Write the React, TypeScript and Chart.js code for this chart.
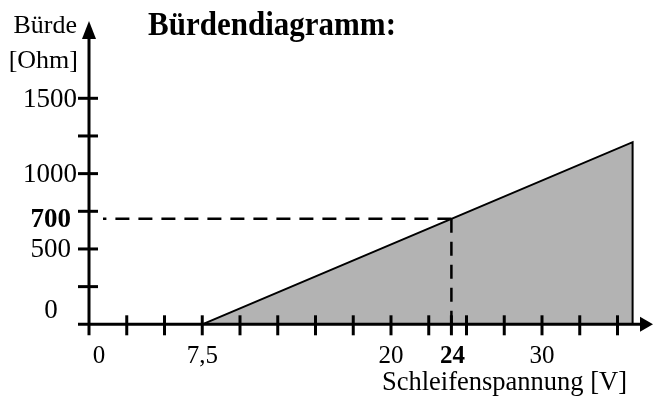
import React, { useEffect, useRef } from "react";
import { Chart, registerables } from "chart.js";

Chart.register(...registerables);

// ---- data ----
const VOLTAGES = [7.5, 24, 36, 36];
const LOADS = [0, 700, 1209, 0];
const OPERATING_VOLTAGE = 24;
const OPERATING_LOAD = 700;

const X_TICK_VALUES = [2.5, 5, 7.5, 10, 12.5, 15, 17.5, 20, 22.5, 24, 25, 27.5, 30, 32.5, 35];
const X_LABEL_VALUES = [0, 7.5, 20, 24, 30];
const X_LABELS = ["0", "7,5", "20", "24", "30"];

const Y_TICK_VALUES = [250, 500, 750, 1000, 1250, 1500];
const Y_LABEL_VALUES = [0, 500, 700, 1000, 1500];
const Y_LABELS = ["0", "500", "700", "1000", "1500"];

const TITLE = "Bürdendiagramm:";
const Y_TITLE = ["Bürde", "[Ohm]"];
const X_TITLE = "Schleifenspannung [V]";

const FONT = '"Liberation Serif", "Times New Roman", serif';

const axesPlugin = {
  id: "customAxes",
  afterDatasetsDraw(chart: any) {
    const ctx = chart.ctx as CanvasRenderingContext2D;
    const xs = chart.scales.x;
    const ys = chart.scales.y;
    const x0 = xs.getPixelForValue(0);
    const y0 = ys.getPixelForValue(0);
    const W = chart.width;
    ctx.save();
    ctx.strokeStyle = "#000";
    ctx.fillStyle = "#000";

    // dashed guide lines to operating point
    const px = xs.getPixelForValue(OPERATING_VOLTAGE);
    const py = ys.getPixelForValue(OPERATING_LOAD);
    ctx.lineWidth = 2.5;
    ctx.setLineDash([14, 9]);
    ctx.beginPath();
    ctx.moveTo(px, py);
    ctx.lineTo(x0 + 14, py);
    ctx.stroke();
    ctx.beginPath();
    ctx.moveTo(px, py);
    ctx.lineTo(px, y0);
    ctx.stroke();
    ctx.setLineDash([]);

    // axes
    ctx.lineWidth = 3;
    ctx.beginPath();
    ctx.moveTo(x0 - 11, y0);
    ctx.lineTo(W - 12, y0);
    ctx.stroke();
    ctx.beginPath();
    ctx.moveTo(W, y0);
    ctx.lineTo(W - 13, y0 - 7.5);
    ctx.lineTo(W - 13, y0 + 7.5);
    ctx.closePath();
    ctx.fill();

    ctx.beginPath();
    ctx.moveTo(x0, y0 + 11);
    ctx.lineTo(x0, 38);
    ctx.stroke();
    ctx.beginPath();
    ctx.moveTo(x0, 21);
    ctx.lineTo(x0 - 7, 39);
    ctx.lineTo(x0 + 7, 39);
    ctx.closePath();
    ctx.fill();

    // ticks
    ctx.lineWidth = 3;
    X_TICK_VALUES.forEach((v) => {
      const x = xs.getPixelForValue(v);
      ctx.beginPath();
      ctx.moveTo(x, y0 - 9);
      ctx.lineTo(x, y0 + 11);
      ctx.stroke();
    });
    Y_TICK_VALUES.forEach((v) => {
      const y = ys.getPixelForValue(v);
      ctx.beginPath();
      ctx.moveTo(x0 - 11, y);
      ctx.lineTo(x0 + 9, y);
      ctx.stroke();
    });

    // x labels
    ctx.textBaseline = "alphabetic";
    ctx.textAlign = "center";
    X_LABEL_VALUES.forEach((v, i) => {
      const bold = v === OPERATING_VOLTAGE;
      ctx.font = `${bold ? "bold " : ""}25px ${FONT}`;
      let x = xs.getPixelForValue(v);
      if (v === 0) x += 10;
      if (bold) x += 1;
      ctx.fillText(X_LABELS[i], x, y0 + 38.5);
    });

    // y labels
    Y_LABEL_VALUES.forEach((v, i) => {
      const bold = v === OPERATING_LOAD;
      ctx.font = `${bold ? "bold " : ""}27px ${FONT}`;
      const y = ys.getPixelForValue(v);
      if (v === 0) {
        ctx.textAlign = "center";
        ctx.fillText(Y_LABELS[i], x0 - 38, y0 - 6);
      } else {
        ctx.textAlign = "right";
        const right = v >= 1000 ? x0 - 12 : x0 - 18;
        ctx.fillText(Y_LABELS[i], right, y + 8.5);
      }
    });

    // chart title (slightly taller glyphs, as in the reference)
    ctx.save();
    ctx.font = `bold 31px ${FONT}`;
    ctx.textAlign = "left";
    ctx.translate(148, 35);
    ctx.scale(1, 1.12);
    ctx.fillText(TITLE, 0, 0);
    ctx.restore();

    ctx.font = `26px ${FONT}`;
    ctx.textAlign = "right";
    ctx.fillText(Y_TITLE[0], x0 - 12, 33);
    ctx.fillText(Y_TITLE[1], x0 - 11, 68);

    ctx.font = `26.5px ${FONT}`;
    ctx.textAlign = "right";
    ctx.fillText(X_TITLE, 627, 390);

    ctx.restore();
  },
};

export default function App() {
  const ref = useRef<HTMLCanvasElement | null>(null);
  useEffect(() => {
    if (!ref.current) return;
    const chart = new Chart(ref.current, {
      type: "line",
      data: {
        datasets: [
          {
            data: VOLTAGES.map((x, i) => ({ x, y: LOADS[i] })),
            borderColor: "#000",
            borderWidth: 2,
            backgroundColor: "#b3b3b3",
            fill: "origin",
            pointRadius: 0,
            tension: 0,
            clip: false as any,
          },
        ],
      },
      options: {
        responsive: false,
        animation: false,
        events: [],
        layout: { padding: { left: 89, right: 20.4, top: 98.3, bottom: 75.7 } },
        plugins: {
          legend: { display: false },
          tooltip: { enabled: false },
          title: { display: false },
        },
        scales: {
          x: { type: "linear", min: 0, max: 36, display: false },
          y: { type: "linear", min: 0, max: 1500, display: false },
        },
      },
      plugins: [axesPlugin],
    });
    return () => chart.destroy();
  }, []);
  return (
    <div style={{ position: "fixed", left: 0, top: 0, width: 653, height: 400, background: "#fff" }}>
      <canvas ref={ref} width={653} height={400} style={{ display: "block" }} />
    </div>
  );
}
